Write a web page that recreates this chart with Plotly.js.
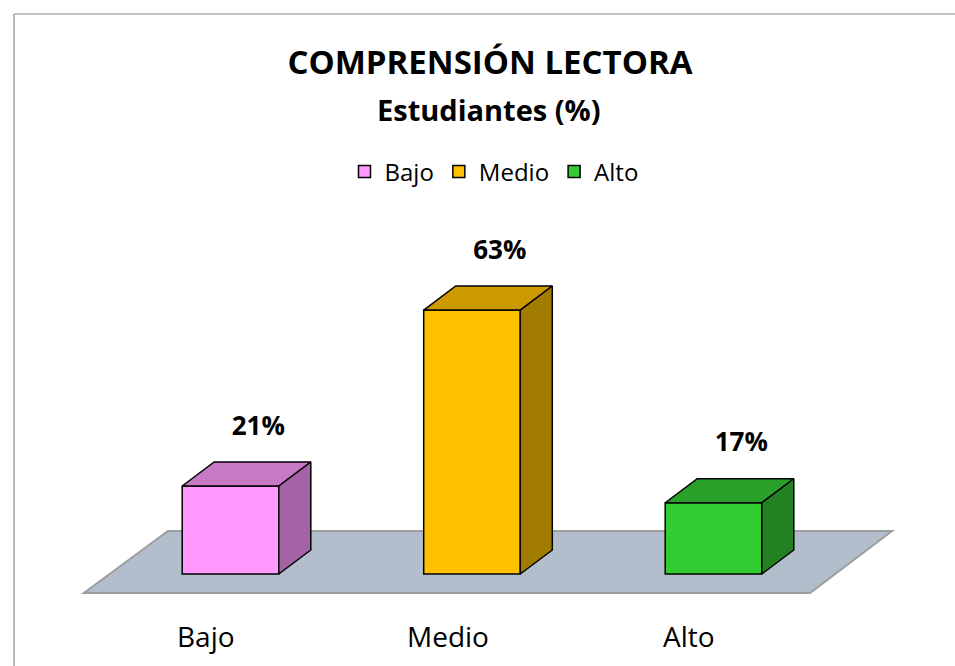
<!DOCTYPE html>
<html>
<head>
<meta charset="utf-8">
<script src="https://cdn.plot.ly/plotly-3.0.1.min.js"></script>
<style>html,body{margin:0;padding:0;background:#fff;}#chart{width:955px;height:666px;}</style>
</head>
<body>
<div id="chart"></div>
<script>
// ---- data ----
const categories = ["Bajo", "Medio", "Alto"];
const values = [21, 63, 17];
const valueLabels = ["21%", "63%", "17%"];
const frontColors = ["#FF99FF", "#FFC000", "#33CC33"];
const topColors = ["#C67AC6", "#CC9A00", "#2A9F2A"];
const sideColors = ["#A463A4", "#A27C00", "#228222"];

// ---- geometry (style, not data) ----
const W = 0.2;          // half bar width (x units)
const DX = 0.1325;      // 3D depth offset in x
const DY = 5.73;        // 3D depth offset in y
const FONT = "'Open Sans', Lato, sans-serif";

const traces = [];
categories.forEach((c, i) => {
  traces.push({
    type: "bar", x: [i], y: [values[i]], width: 2 * W, name: c,
    marker: { color: frontColors[i], line: { color: "#000", width: 1.5 } },
    hoverinfo: "skip"
  });
});
categories.forEach((c, i) => {
  const v = values[i];
  traces.push({
    type: "scatter", mode: "lines", fill: "toself", showlegend: false, hoverinfo: "skip",
    x: [i - W, i + W, i + W + DX, i - W + DX, i - W],
    y: [v, v, v + DY, v + DY, v],
    fillcolor: topColors[i], line: { color: "#000", width: 1.5 }
  });
  traces.push({
    type: "scatter", mode: "lines", fill: "toself", showlegend: false, hoverinfo: "skip",
    x: [i + W, i + W + DX, i + W + DX, i + W, i + W],
    y: [0, DY, v + DY, v, 0],
    fillcolor: sideColors[i], line: { color: "#000", width: 1.5 }
  });
});
traces.push({
  type: "scatter", mode: "text", showlegend: false, hoverinfo: "skip",
  x: categories.map((c, i) => i + 0.115),
  y: values.map(v => v + 13.8),
  text: valueLabels,
  textfont: { family: FONT, size: 26, color: "#000", weight: "bold" },
  textposition: "middle center"
});

const annotations = categories.map((c, i) => ({
  x: i - 0.1, y: -14.8, xref: "x", yref: "y", text: c, showarrow: false,
  font: { family: FONT, size: 28, color: "#000" }, xanchor: "center", yanchor: "middle"
}));
annotations.push({
  x: 489 / 955, y: 1 - 110 / 666, xref: "paper", yref: "paper", showarrow: false,
  text: "<b>Estudiantes (%)</b>", font: { family: FONT, size: 29, color: "#000" },
  xanchor: "center", yanchor: "middle"
});

const layout = {
  width: 955, height: 666, autosize: false,
  margin: { l: 0, r: 0, t: 0, b: 0 },
  paper_bgcolor: "#fff", plot_bgcolor: "rgba(0,0,0,0)",
  title: {
    text: "<b>COMPRENSIÓN LECTORA</b>", x: 490 / 955, xanchor: "center",
    y: 1 - 62 / 666, yanchor: "middle", yref: "container",
    font: { family: FONT, size: 33, color: "#000" }
  },
  xaxis: { range: [-230.5 / 241.5, (955 - 230.5) / 241.5], visible: false, fixedrange: true },
  yaxis: { range: [-(666 - 574) / 4.19, 574 / 4.19], visible: false, fixedrange: true },
  showlegend: true,
  legend: {
    orientation: "h", x: 494 / 955, xanchor: "center", y: 1 - 172 / 666, yanchor: "middle",
    font: { family: FONT, size: 24, color: "#000" }, bgcolor: "rgba(0,0,0,0)", itemwidth: 30,
    traceorder: "normal"
  },
  annotations: annotations,
  shapes: [
    { type: "path", xref: "x", yref: "y", layer: "below",
      path: "M -0.607,-4.53 L 2.40,-4.53 L 2.739,10.26 L -0.259,10.26 Z",
      fillcolor: "#B2BECB", line: { color: "#9E9E9E", width: 2 } },
    { type: "line", xref: "paper", yref: "paper", x0: 14 / 955, x1: 1.01, y0: 1 - 14 / 666, y1: 1 - 14 / 666,
      line: { color: "#8C8C8C", width: 1.2 } },
    { type: "line", xref: "paper", yref: "paper", x0: 14 / 955, x1: 14 / 955, y0: 1 - 14 / 666, y1: -0.01,
      line: { color: "#8C8C8C", width: 1.2 } }
  ]
};

Plotly.newPlot("chart", traces, layout, { displayModeBar: false, staticPlot: true });
</script>
</body>
</html>
